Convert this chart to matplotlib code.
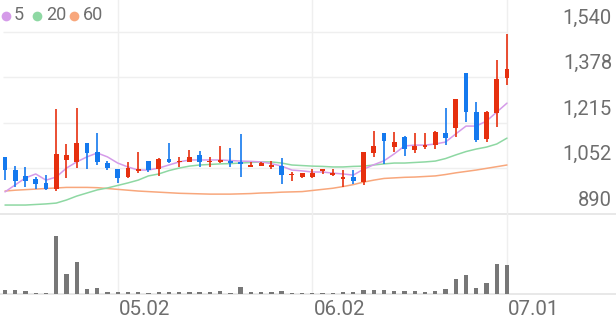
import matplotlib
matplotlib.use("Agg")
import matplotlib.pyplot as plt
from matplotlib.lines import Line2D
from matplotlib.transforms import blended_transform_factory, ScaledTranslation
import numpy as np

plt.rcParams['font.family'] = ['Roboto', 'DejaVu Sans']

# ---- data ----
opens = [1092, 1047, 1026, 1014, 1000, 978, 1083, 1077, 1142, 1112,
         1071, 1051, 1021, 1044, 1079, 1050, 1086, 1076, 1077, 1101,
         1076, 1075, 1078, 1077, 1057, 1061, 1059, 1061, 1028, 1021,
         1021, 1044, 1030, 1015, 1021, 1005, 1109, 1180, 1128, 1164,
         1119, 1128, 1136, 1178, 1196, 1392, 1253, 1158, 1250, 1377]
highs = [1095, 1061, 1058, 1021, 1029, 1264, 1140, 1267, 1143, 1178,
         1080, 1051, 1077, 1112, 1079, 1089, 1142, 1095, 1119, 1116,
         1095, 1133, 1125, 1176, 1077, 1075, 1080, 1089, 1041, 1036,
         1050, 1047, 1050, 1047, 1047, 1110, 1188, 1180, 1184, 1169,
         1180, 1178, 1186, 1270, 1301, 1392, 1289, 1258, 1440, 1532]
lows = [1013, 988, 988, 978, 976, 973, 1017, 1053, 1051, 1065,
        1047, 1000, 1017, 1037, 1041, 1026, 1071, 1059, 1077, 1057,
        1057, 1073, 1059, 1021, 1057, 1061, 1050, 997, 1009, 1020,
        1020, 1033, 1026, 985, 997, 994, 1092, 1069, 1112, 1097,
        1109, 1121, 1122, 1136, 1166, 1217, 1148, 1148, 1202, 1351]
closes = [1047, 1009, 1009, 997, 979, 1104, 1101, 1145, 1109, 1077,
          1055, 1017, 1055, 1050, 1047, 1085, 1077, 1080, 1095, 1077,
          1080, 1084, 1071, 1069, 1064, 1073, 1065, 1029, 1033, 1035,
          1037, 1047, 1035, 1021, 1009, 1110, 1134, 1152, 1148, 1121,
          1133, 1136, 1182, 1162, 1301, 1253, 1154, 1253, 1372, 1408]

ma5 = [969, 994, 1019, 1033, 1011, 1022, 1054, 1076, 1094, 1108,
       1094, 1072, 1058, 1047, 1047, 1054, 1065, 1076, 1083, 1083,
       1083, 1083, 1081, 1079, 1078, 1076, 1070, 1061, 1047, 1044,
       1040, 1040, 1036, 1033, 1029, 1050, 1066, 1080, 1105, 1133,
       1136, 1136, 1140, 1147, 1176, 1204, 1204, 1222, 1254, 1286]
ma20 = [922, 922, 922, 924, 926, 929, 940, 954, 965, 976,
        983, 992, 1001, 1011, 1026, 1033, 1045, 1054, 1061, 1065,
        1067, 1069, 1070, 1072, 1074, 1076, 1076, 1072, 1065, 1063,
        1061, 1060, 1058, 1058, 1060, 1061, 1065, 1069, 1072, 1072,
        1074, 1076, 1079, 1088, 1101, 1113, 1122, 1129, 1140, 1161]
ma60 = [972, 975, 977, 979, 981, 983, 985, 985, 985, 984,
        981, 978, 975, 972, 970, 968, 966, 964, 963, 962,
        961, 961, 961, 962, 963, 965, 966, 968, 969, 970,
        974, 978, 982, 988, 995, 1004, 1011, 1017, 1019, 1021,
        1022, 1024, 1026, 1031, 1037, 1042, 1047, 1053, 1059, 1065]

volumes = [43, 40, 27, 13, 13, 577, 200, 323, 47, 57,
           17, 17, 17, 17, 10, 17, 17, 17, 17, 17,
           17, 30, 10, 67, 20, 17, 17, 30, 10, 10,
           7, 7, 10, 23, 17, 43, 43, 40, 30, 27,
           30, 17, 30, 50, 150, 187, 57, 113, 300, 287]

x_tick_pos = [11, 30, 49]
x_tick_labels = ['05.02', '06.02', '07.01']
y_tick_vals = [890, 1052.5, 1215, 1377.5, 1540]
y_tick_labels = ['890', '1,052', '1,215', '1,378', '1,540']

ma_names = ['5', '20', '60']
ma_colors = ['#d59be9', '#8ed8a3', '#f8a77c']

UP = '#e6300f'
DOWN = '#1479ee'
GRID = '#efefef'
TEXT = '#6e6e6e'

W, H = 616, 321
fig = plt.figure(figsize=(W / 100, H / 100), dpi=100)
fig.patch.set_facecolor('white')

# price axes: pixel rows 0..214, volume axes: 214..294
ax = fig.add_axes([0, (H - 214) / H, 1, 214 / H])
axv = fig.add_axes([0, (H - 294) / H, 1, 80 / H])
for a in (ax, axv):
    a.set_axis_off()
    a.set_xlim(-0.488, 59.64)
ax.set_ylim(890, 890 + 214 * 162.5 / 45.5)
axv.set_ylim(0, 800)

n = len(closes)
x = np.arange(n)
o = np.array(opens); c = np.array(closes)
hi = np.array(highs); lo = np.array(lows)
cols = [UP if cc >= oo else DOWN for oo, cc in zip(o, c)]

# grid
for yv in y_tick_vals[1:]:
    ax.hlines(yv, -0.2, 49, color=GRID, lw=1.0, zorder=0)
ax.axhline(890, color='#e4e4e4', lw=1.2, zorder=0, clip_on=False)
axv.axhline(0, color='#e4e4e4', lw=1.2, zorder=0, clip_on=False)
for xp in x_tick_pos:
    ax.axvline(xp, color=GRID, lw=1.0, zorder=0)
    axv.axvline(xp, color=GRID, lw=1.0, zorder=0)

# MA lines
for vals, col in zip([ma60, ma20, ma5], [ma_colors[2], ma_colors[1], ma_colors[0]]):
    ax.plot(x, vals, color=col, lw=1.1, zorder=2, solid_capstyle='round')

# candles
ax.vlines(x, lo, hi, colors=cols, lw=1.2, zorder=3)
body_h = np.maximum(np.abs(c - o), 5)
ax.bar(x, body_h, bottom=np.minimum(o, c), width=0.47, color=cols, zorder=4, linewidth=0)

# volume
axv.bar(x, volumes, width=0.42, color='#777777', linewidth=0, zorder=2)

# y labels (above their gridline)
ytrans = blended_transform_factory(ax.transAxes, ax.transData) + \
    ScaledTranslation(0, 13.7 / 100, fig.dpi_scale_trans)
for yv, lab in zip(y_tick_vals, y_tick_labels):
    ax.text(612 / W, yv, lab, transform=ytrans, ha='right', va='center',
            fontsize=14.5, color=TEXT)

# x labels
xtrans = blended_transform_factory(axv.transData, axv.transAxes)
for xp, lab in zip(x_tick_pos, x_tick_labels):
    axv.text(xp + 0.12, -0.19, lab, transform=xtrans, ha='left', va='center',
             fontsize=14.8, color=TEXT)

# legend
legend_x = [(5.5, 14), (37, 46), (74.3, 83)]
for (dx, tx), name, col in zip(legend_x, ma_names, ma_colors):
    fig.add_artist(Line2D([dx / W], [1 - 15.5 / H], transform=fig.transFigure,
                          marker='o', markersize=7.0, markerfacecolor=col,
                          markeredgewidth=0, linestyle='none'))
    fig.text(tx / W, 1 - 15.5 / H, name, color=TEXT, fontsize=13,
             ha='left', va='center')

fig.savefig('out.png', dpi=100, facecolor='white')
